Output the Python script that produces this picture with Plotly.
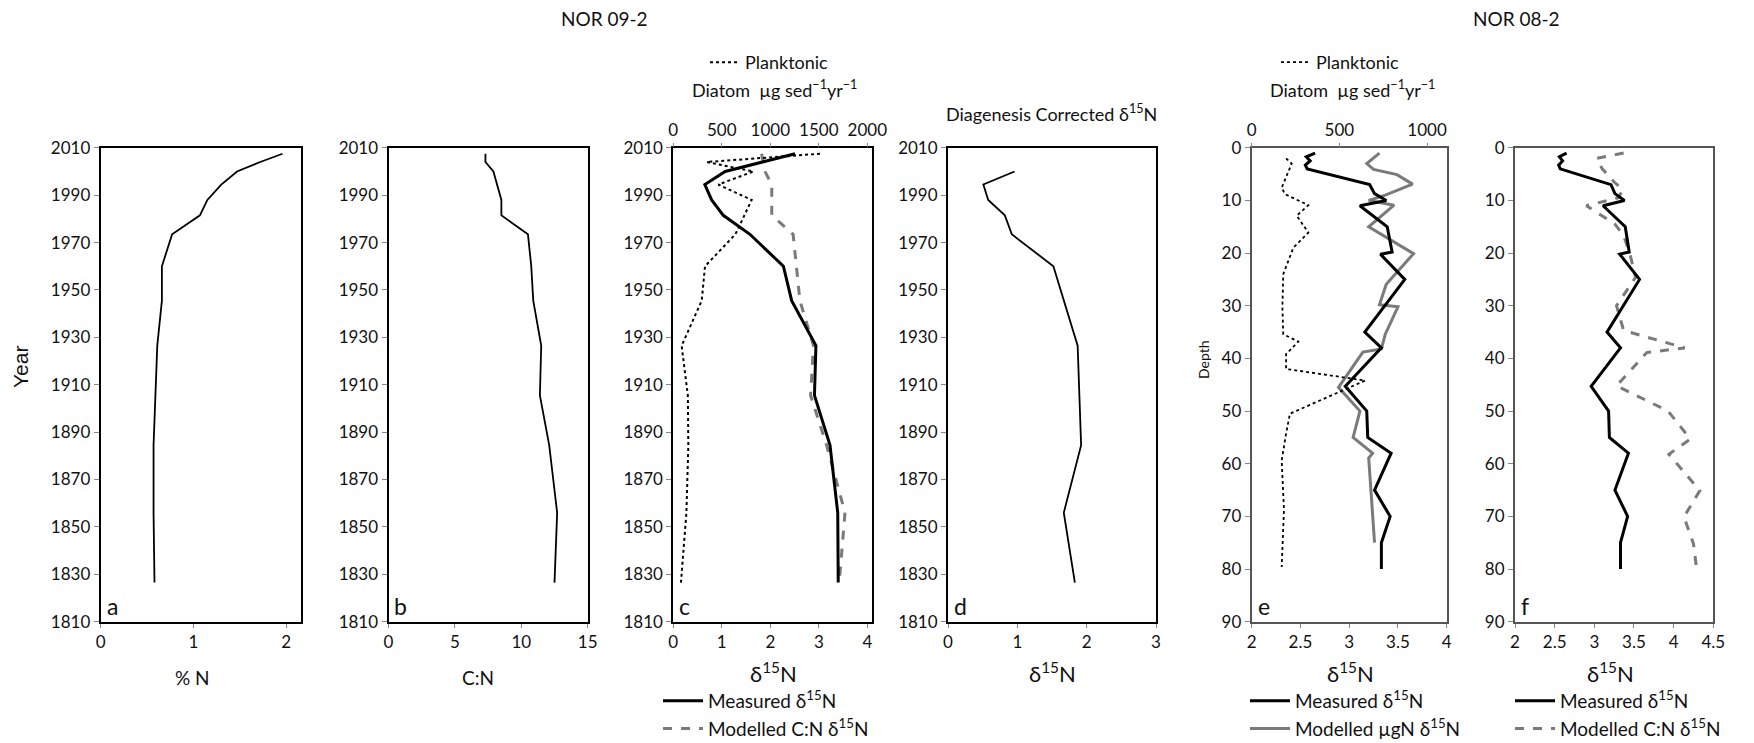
import plotly.graph_objects as go

# ---------------- data ----------------
# NOR 09-2 (year based)
years_a = [2007.5, 2004, 2000, 1994.5, 1988, 1981.5, 1973.5, 1960, 1945.5, 1926.5, 1905.5, 1884.5, 1856, 1826.5]
pct_n = [1.96, 1.72, 1.47, 1.30, 1.15, 1.07, 0.77, 0.66, 0.66, 0.61, 0.59, 0.57, 0.57, 0.58]

years_b = [2007.5, 2004, 2000, 1994.5, 1988, 1981.5, 1973.5, 1960, 1945.5, 1926.5, 1905.5, 1884.5, 1856, 1826.5]
c_to_n = [7.3, 7.3, 7.9, 8.2, 8.5, 8.5, 10.5, 10.75, 10.9, 11.5, 11.4, 12.1, 12.7, 12.5]

years_c = [2007.5, 2000, 1994.5, 1988, 1981.5, 1973.5, 1960, 1945.5, 1926.5, 1905.5, 1884.5, 1856, 1826.5]
measured_c = [2.51, 1.07, 0.65, 0.79, 1.03, 1.58, 2.27, 2.44, 2.94, 2.91, 3.23, 3.39, 3.40]
years_c_mod = [2007.5, 2000, 1994.5, 1988, 1981.5, 1973.5, 1960, 1945.5, 1926.5, 1905.5, 1884.5, 1856, 1826.5]
modelled_cn_c = [1.82, 1.89, 2.03, 2.03, 2.03, 2.47, 2.54, 2.61, 2.89, 2.83, 3.16, 3.54, 3.42]
years_plank_c = [2007.5, 2004, 2000, 1994.5, 1988, 1973.5, 1960, 1945.5, 1926.5, 1905.5, 1884.5, 1856, 1826.5]
planktonic_c = [1512, 344, 825, 464, 808, 640, 327, 293, 86, 150, 155, 135, 79]

years_d = [2000, 1994.5, 1988, 1981.5, 1973.5, 1960, 1926.5, 1884.5, 1856, 1826.5]
corrected_d = [0.96, 0.51, 0.58, 0.82, 0.92, 1.52, 1.87, 1.92, 1.67, 1.83]

# NOR 08-2 (depth based)
depth_meas = [1, 1.7, 2.5, 3.3, 4, 7, 8.7, 10, 11, 15, 19.8, 20.2, 25, 35, 38, 45.3, 50, 55, 58, 65, 70, 75, 80]
measured_e = [2.65, 2.56, 2.60, 2.55, 2.57, 3.21, 3.26, 3.38, 3.11, 3.39, 3.44, 3.32, 3.57, 3.16, 3.33,
              2.96, 3.18, 3.19, 3.43, 3.26, 3.42, 3.33, 3.33]

depth_mod_ugn = [1, 3, 4.1, 5.1, 6.9, 9, 10, 10.9, 15, 20.1, 25.9, 29.8, 30.2, 35.4, 38.2, 38.8, 45.5,
                 50, 55, 58, 58.9, 75]
modelled_ugn_e = [3.31, 3.18, 3.25, 3.49, 3.65, 3.37, 3.20, 3.46, 3.20, 3.66, 3.38, 3.31, 3.50, 3.37, 3.33,
                  3.14, 2.89, 3.11, 3.04, 3.24, 3.20, 3.26]

depth_plank = [2, 3, 7.6, 8.8, 10.9, 12.9, 16.1, 19, 24, 30.3, 35.4, 36.8, 39.2, 42, 44.2, 50.5, 54.3,
               59.4, 68.8, 79.6]
planktonic_e = [196, 228, 171, 190, 323, 257, 323, 237, 180, 175, 180, 266, 196, 196, 647, 218, 196,
                171, 184, 171]

depth_mod_cn = [1, 2, 4, 6.5, 8, 9.5, 11, 14.5, 16.7, 20.2, 24.6, 30, 34.7, 38, 38.9, 45.2, 50, 55.3,
                58.2, 65.1, 70.1, 75.2, 80]
modelled_cn_f = [3.37, 3.03, 3.10, 3.25, 3.36, 3.30, 2.90, 3.26, 3.37, 3.45, 3.52, 3.28, 3.37, 4.14, 3.66,
                 3.28, 3.93, 4.21, 3.94, 4.33, 4.13, 4.25, 4.29]

year_ticks = [1810, 1830, 1850, 1870, 1890, 1910, 1930, 1950, 1970, 1990, 2010]
depth_ticks = [0, 10, 20, 30, 40, 50, 60, 70, 80, 90]

# ---------------- layout helpers ----------------
# the page body adds an 8 px margin, so the figure is drawn 8 px in from the window corner
PAGE_W, PAGE_H = 1754, 743
OFF = 8
W, H = PAGE_W - OFF, PAGE_H - OFF
FONT = "Lato"


def px_x(x):
    return (x - OFF) / W


def px_y(y):
    return 1 - (y - OFF) / H


def xd(l, r):
    return [px_x(l), px_x(r)]


def yd(t, b):
    return [px_y(b), px_y(t)]


Y_TOP, Y_BOT = 147.8, 621.7
panels = {
    "a": (100.7, 301.0),
    "b": (388.5, 587.7),
    "c": (673.3, 871.7),
    "d": (948.0, 1156.0),
    "e": (1251.7, 1446.7),
    "f": (1515.0, 1713.3),
}

fig = go.Figure()

BLACK = "#000000"
GRAY = "#7a7a7a"

# panel a
fig.add_trace(go.Scatter(x=pct_n, y=years_a, mode="lines", line=dict(color=BLACK, width=1.8),
                         xaxis="x", yaxis="y", showlegend=False))
# panel b
fig.add_trace(go.Scatter(x=c_to_n, y=years_b, mode="lines", line=dict(color=BLACK, width=1.8),
                         xaxis="x2", yaxis="y2", showlegend=False))
# panel c
fig.add_trace(go.Scatter(x=planktonic_c, y=years_plank_c, mode="lines", name="Planktonic",
                         line=dict(color=BLACK, width=2, dash="dot"),
                         xaxis="x7", yaxis="y3", legend="legend4"))
fig.add_trace(go.Scatter(x=modelled_cn_c, y=years_c_mod, mode="lines", name="Modelled C:N δ<sup>15</sup>N",
                         line=dict(color=GRAY, width=3, dash="dash"),
                         xaxis="x3", yaxis="y3", legend="legend", legendrank=2))
fig.add_trace(go.Scatter(x=measured_c, y=years_c, mode="lines", name="Measured δ<sup>15</sup>N",
                         line=dict(color=BLACK, width=3),
                         xaxis="x3", yaxis="y3", legend="legend", legendrank=1))
# panel d
fig.add_trace(go.Scatter(x=corrected_d, y=years_d, mode="lines", line=dict(color=BLACK, width=1.8),
                         xaxis="x4", yaxis="y4", showlegend=False))
# panel e
fig.add_trace(go.Scatter(x=planktonic_e, y=depth_plank, mode="lines", name="Planktonic",
                         line=dict(color=BLACK, width=1.8, dash="dot"),
                         xaxis="x8", yaxis="y5", legend="legend5"))
fig.add_trace(go.Scatter(x=modelled_ugn_e, y=depth_mod_ugn, mode="lines", name="Modelled µgN δ<sup>15</sup>N",
                         line=dict(color=GRAY, width=3),
                         xaxis="x5", yaxis="y5", legend="legend2", legendrank=2))
fig.add_trace(go.Scatter(x=measured_e, y=depth_meas, mode="lines", name="Measured δ<sup>15</sup>N",
                         line=dict(color=BLACK, width=3),
                         xaxis="x5", yaxis="y5", legend="legend2", legendrank=1))
# panel f
fig.add_trace(go.Scatter(x=modelled_cn_f, y=depth_mod_cn, mode="lines", name="Modelled C:N δ<sup>15</sup>N",
                         line=dict(color=GRAY, width=3, dash="dash"),
                         xaxis="x6", yaxis="y6", legend="legend3", legendrank=2))
fig.add_trace(go.Scatter(x=measured_e, y=depth_meas, mode="lines", name="Measured δ<sup>15</sup>N",
                         line=dict(color=BLACK, width=3),
                         xaxis="x6", yaxis="y6", legend="legend3", legendrank=1))

tickfont = dict(family=FONT, size=17, color="#111")


def xaxis(key, rng, dtick, linecolor=BLACK, tick0=0):
    l, r = panels[key]
    return dict(domain=xd(l, r), range=rng, dtick=dtick, tick0=tick0, showgrid=False, zeroline=False,
                showline=True, linecolor=linecolor, linewidth=2, mirror=True, ticks="outside",
                ticklen=4, tickcolor="#888", tickfont=tickfont)


def yaxis(anchor, rng, tickvals, linecolor=BLACK):
    return dict(domain=yd(Y_TOP, Y_BOT), range=rng, tickvals=tickvals, showgrid=False, zeroline=False,
                showline=True, linecolor=linecolor, linewidth=2, mirror=True, ticks="outside",
                ticklen=5, tickcolor="#888", tickfont=tickfont, anchor=anchor)


layout = dict(
    width=W, height=H, margin=dict(l=0, r=0, t=0, b=0, autoexpand=False), autosize=False,
    paper_bgcolor="white", plot_bgcolor="white",
    font=dict(family=FONT, color="#111"),
    xaxis=xaxis("a", [0, 2.16], 1),
    xaxis2=xaxis("b", [0, 15], 5),
    xaxis3=xaxis("c", [0, 4.09], 1),
    xaxis4=xaxis("d", [0, 3], 1),
    xaxis5=xaxis("e", [2, 4], 0.5, "#555", tick0=2),
    xaxis6=xaxis("f", [2, 4.5], 0.5, "#555", tick0=2),
    yaxis=yaxis("x", [1810, 2010], year_ticks),
    yaxis2=yaxis("x2", [1810, 2010], year_ticks),
    yaxis3=yaxis("x3", [1810, 2010], year_ticks),
    yaxis4=yaxis("x4", [1810, 2010], year_ticks),
    yaxis5=yaxis("x5", [90, 0], depth_ticks, "#555"),
    yaxis6=yaxis("x6", [90, 0], depth_ticks, "#555"),
)
for k in ["xaxis", "xaxis2", "xaxis3", "xaxis4", "xaxis5", "xaxis6"]:
    layout[k]["anchor"] = "y" + k[5:]
for key, over, anc, top in [("xaxis7", "x3", "y3", 2045), ("xaxis8", "x5", "y5", 1112)]:
    layout[key] = dict(overlaying=over, side="top", anchor=anc, range=[0, top], dtick=500,
                       showgrid=False, zeroline=False, ticks="outside", ticklen=4, tickcolor="#888",
                       tickfont=tickfont, showline=False)


def legend(x_px, y_px, itemwidth=40, size=19):
    return dict(x=px_x(x_px), y=px_y(y_px), xanchor="left", yanchor="top",
                font=dict(family=FONT, size=size, color="#111"), itemwidth=itemwidth,
                bgcolor="rgba(0,0,0,0)", tracegroupgap=0, traceorder="normal")


layout["legend"] = legend(658, 682)
layout["legend2"] = legend(1245, 682)
layout["legend3"] = legend(1510, 682)
layout["legend4"] = legend(705, 44, 30, 18)
layout["legend5"] = legend(1276, 44, 30, 18)

fig.update_layout(**layout)


def ann(text, x, y, size=17, xanchor="center", yanchor="middle", textangle=0, family=FONT):
    fig.add_annotation(text=text, x=px_x(x), y=px_y(y), xref="paper", yref="paper", showarrow=False,
                       xanchor=xanchor, yanchor=yanchor, textangle=textangle,
                       font=dict(family=family, size=size, color="#111"))


ann("NOR 09-2", 604, 19, 19)
ann("NOR 08-2", 1516, 19, 19)
ann("Diatom  µg sed<sup>−1</sup>yr<sup>−1</sup>", 774, 89, 18)
ann("Diatom  µg sed<sup>−1</sup>yr<sup>−1</sup>", 1352, 89, 18)
ann("Diagenesis Corrected δ<sup>15</sup>N", 1051, 113, 18)
ann("Year", 20, 367, 21, textangle=-90, family="Liberation Sans")
ann("Depth", 1203, 360, 14, textangle=-90)
ann("% N", 192, 677, 19)
ann("C:N", 478, 677, 19)
for xc in [773, 1052, 1350, 1610]:
    ann("δ<sup>15</sup>N", xc, 672, 22)

for i, letter in enumerate("abcdef"):
    ax = "" if i == 0 else str(i + 1)
    fig.add_annotation(text=letter, xref=f"x{ax} domain", yref=f"y{ax} domain", x=0.02, y=0.0,
                       xanchor="left", yanchor="bottom", showarrow=False,
                       font=dict(family=FONT, size=23, color="#111"))

fig.write_html("out.html")
